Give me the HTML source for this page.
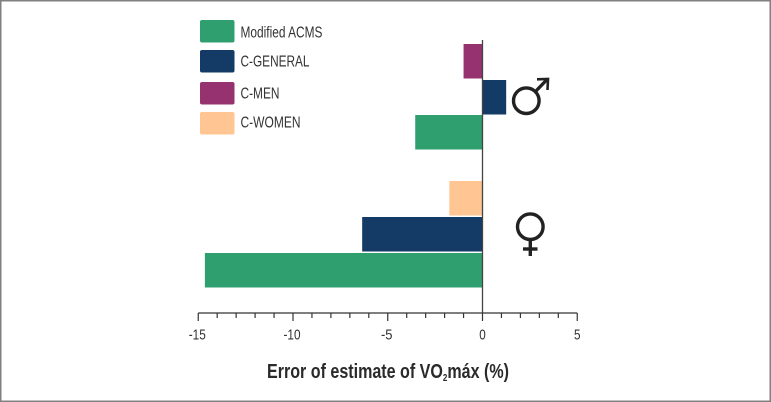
<!DOCTYPE html>
<html>
<head>
<meta charset="utf-8">
<title>Error of estimate of VO2máx</title>
<style>
html,body{margin:0;padding:0;background:#fff;}
svg{display:block;font-family:"Liberation Sans",Arial,sans-serif;}
</style>
</head>
<body>
<svg id="chart" width="771" height="402" viewBox="0 0 771 402" xmlns="http://www.w3.org/2000/svg">
  <rect x="0.75" y="0.75" width="769.5" height="400.5" fill="#fff" stroke="#808080" stroke-width="1.5"/>
  <g id="bars"></g>
  <g id="axis"></g>
  <text x="267" y="378" font-size="20" font-weight="bold" fill="#2a2a2a" textLength="242" lengthAdjust="spacingAndGlyphs">Error of estimate of VO<tspan font-size="10" dy="3">2</tspan><tspan dy="-3">máx (%)</tspan></text>
  <g id="legend"></g>
  <g fill="none" stroke="#222" stroke-width="3.4">
    <circle cx="526.3" cy="100.7" r="12.8"/>
    <path d="M535.5 91.5 L547.5 79"/>
    <path d="M537 79.3 L548 79 L547.5 90" stroke-width="2.6"/>
  </g>
  <g fill="none" stroke="#222" stroke-width="3.4">
    <circle cx="530.3" cy="226.7" r="12.8"/>
    <path d="M530.3 240 L530.3 256"/>
    <path d="M523 249 L537.5 249"/>
  </g>
</svg>
<script>
var categories = ["C-MEN male", "C-GENERAL male", "Modified ACMS male", "C-WOMEN female", "C-GENERAL female", "Modified ACMS female"];
var seriesValues = [-1.0, 1.25, -3.55, -1.75, -6.35, -14.65];
var seriesKeys = ["C-MEN", "C-GENERAL", "Modified ACMS", "C-WOMEN", "C-GENERAL", "Modified ACMS"];
var legendLabels = ["Modified ACMS", "C-GENERAL", "C-MEN", "C-WOMEN"];
var tickLabels = [-15, -10, -5, 0, 5];
var minorTicks = [-15,-14,-13,-12,-11,-10,-9,-8,-7,-6,-5,-4,-3,-2,-1,0,1,2,3,4,5];

var colors = {"Modified ACMS":"#2f9f70","C-GENERAL":"#143a66","C-MEN":"#96326f","C-WOMEN":"#ffc592"};
var NS = "http://www.w3.org/2000/svg";
function x(v){ return 482.5 + v * 18.95; }
function barTop(i){ return [44, 80, 115, 181, 217, 253][i]; }
function legendTop(i){ return [20, 50, 82, 112][i]; }
var AXIS_Y = 313;

function make(tag, attrs, parent){
  var el = document.createElementNS(NS, tag);
  for (var k in attrs) el.setAttribute(k, attrs[k]);
  parent.appendChild(el);
  return el;
}

var barsG = document.getElementById("bars");
seriesValues.forEach(function(v, i){
  var r = make("rect", {x: Math.min(x(0), x(v)), y: barTop(i), width: Math.abs(x(v) - x(0)), height: 34.5, fill: colors[seriesKeys[i]]}, barsG);
  
  
  var t = make("title", {}, r);
  t.textContent = categories[i] + ": " + v;
});

var axisG = document.getElementById("axis");
var base = make("line", {x1: x(-15), x2: x(5), y1: AXIS_Y, y2: AXIS_Y, stroke: "#333", "stroke-width": 1.3}, axisG);


var zero = make("line", {x1: x(0), x2: x(0), y1: 40, y2: AXIS_Y, stroke: "#444", "stroke-width": 1.3}, axisG);


minorTicks.forEach(function(v){
  var major = tickLabels.indexOf(v) >= 0;
  var t = make("line", {x1: x(v), x2: x(v), y1: AXIS_Y, y2: AXIS_Y + (major ? 8 : 5), stroke: "#333", "stroke-width": 1.2}, axisG);
  
  
});
tickLabels.forEach(function(v){
  var s = String(v);
  var t = make("text", {x: x(v) - (v < 0 ? 1 : 0), y: 339.5, "text-anchor": "middle", "font-size": 15, fill: "#333"}, axisG);
  t.textContent = s;
  t.setAttribute('textLength', v < 0 ? (s.length === 3 ? 17 : 11.5) : 6.5);
  t.setAttribute('lengthAdjust', 'spacingAndGlyphs');
  
  
});

var legendG = document.getElementById("legend");
var legendWidths = [82, 69, 39, 60];
var legendBaselines = [37.5, 66.7, 98.3, 127.3];
legendLabels.forEach(function(label, i){
  var s = make("rect", {x: 200, y: legendTop(i), width: 34.5, height: 22.5, rx: 2, fill: colors[label]}, legendG);
  
  
  var t = make("text", {x: 240.5, y: legendBaselines[i], "font-size": 15.5, fill: "#333", textLength: legendWidths[i], lengthAdjust: "spacingAndGlyphs"}, legendG);
  t.textContent = label;
  
  
});
</script>
</body>
</html>
